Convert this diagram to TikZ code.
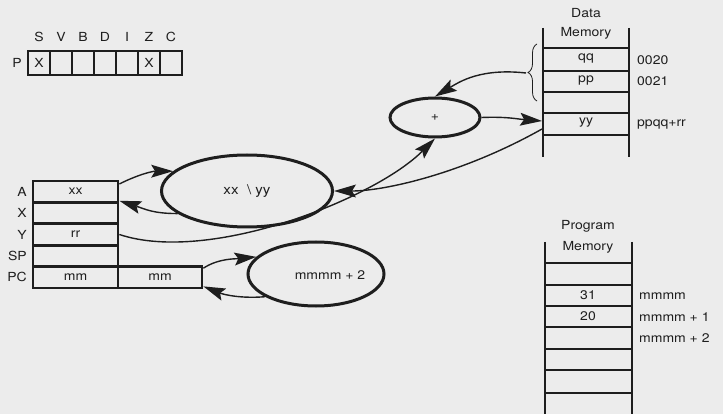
\documentclass[tikz,border=0pt]{standalone}
\usepackage{fontspec}
\setmainfont[FakeStretch=1.12]{TeX Gyre Heros}
\usetikzlibrary{arrows.meta,shapes.geometric,decorations.pathreplacing}
\definecolor{bg}{RGB}{236,236,236}
\definecolor{ink}{RGB}{30,30,30}
\begin{document}
\begin{tikzpicture}[x=1pt,y=-1pt,
  font=\fontsize{12.5}{14}\selectfont, color=ink,
  flagcell/.style={draw, line width=2.6pt, minimum width=22pt, minimum height=24pt, inner sep=0pt},
  reg/.style={draw, line width=2.8pt, minimum width=85pt, minimum height=21.4pt, inner sep=0pt},
  ell/.style={draw, ellipse, line width=3pt, inner sep=0pt},
  memline/.style={line width=2.8pt},
  lbl/.style={inner sep=0pt},
  tipshape/.tip={Stealth[length=22pt,width=13pt,inset=4pt,line width=0pt]},
  arr/.style={line width=1.4pt, -tipshape}]
\fill[bg] (0,0) rectangle (723,414);
\useasboundingbox (0,0) rectangle (723,414);

% flag register
\foreach \n/\t/\v [count=\i from 0] in {fS/S/X, fV/V/, fB/B/, fD/D/, fI/I/, fZ/Z/X, fC/C/} {
  \node[flagcell] (\n) at (39+22*\i,63) {\v};
  \node[lbl] (\n l) at (39+22*\i,37) {\t};
}
\node[lbl] (Pl) at (17,63) {P};

% registers
\node[reg] (rA) at (75.5,191.7) {xx};
\node[reg] (rX) at (75.5,213.1) {};
\node[reg] (rY) at (75.5,234.5) {rr};
\node[reg] (rSP) at (75.5,255.9) {};
\node[reg] (rPC) at (75.5,277.3) {mm};
\node[reg, minimum width=84pt] (rPC2) at (160,277.3) {mm};
\node[lbl, anchor=east] (lA) at (27,191.7) {A};
\node[lbl, anchor=east] (lX) at (27,213.1) {X};
\node[lbl, anchor=east] (lY) at (27,234.5) {Y};
\node[lbl, anchor=east] (lSP) at (27,255.9) {SP};
\node[lbl, anchor=east] (lPC) at (27,277.3) {PC};

% ellipses
\node[ell, minimum width=171pt, minimum height=72pt] (andE) at (247,191) {\fontsize{13.5}{15}\selectfont xx \ \textbackslash\ yy};
\node[ell, minimum width=136pt, minimum height=64pt] (incE) at (316,274) {};
\node[lbl] (incT) at (330,275) {mmmm + 2};
\node[ell, minimum width=90pt, minimum height=39pt] (plusE) at (435,117.5) {+};

% data memory
\node[lbl] (dmT1) at (586,13) {Data};
\node[lbl] (dmT2) at (586,33) {Memory};
\draw[memline] (543,28) -- (543,157);
\draw[memline] (629,28) -- (629,157);
\foreach \yy in {48,71,92,113,135} \draw[memline] (543,\yy) -- (629,\yy);
\node[lbl] (qq) at (586,58.5) {qq};
\node[lbl] (pp) at (586,80.5) {pp};
\node[lbl] (yy) at (586,123) {yy};
\node[lbl, anchor=west] (a20) at (637,60) {0020};
\node[lbl, anchor=west] (a21) at (637,81) {0021};
\node[lbl, anchor=west] (asum) at (637,124) {ppqq+rr};
\coordinate (dmIn) at (542,121);
\coordinate (dmOut) at (542,129);
\draw[line width=0.8pt, decorate, decoration={brace, amplitude=9pt}] (537,101) -- (537,44);
\coordinate (braceTip) at (526,73);

% program memory
\node[lbl] (pmT1) at (588,226) {Program};
\node[lbl] (pmT2) at (588,247) {Memory};
\draw[memline] (545,242) -- (545,414);
\draw[memline] (632,242) -- (632,414);
\foreach \yy in {263,285,306,327,349,370,393} \draw[memline] (545,\yy) -- (632,\yy);
\node[lbl] (c31) at (588,295.5) {31};
\node[lbl] (c20) at (588,316.5) {20};
\node[lbl, anchor=west] (m0) at (639,296) {mmmm};
\node[lbl, anchor=west] (m1) at (639,317) {mmmm + 1};
\node[lbl, anchor=west] (m2) at (639,338) {mmmm + 2};

% connectors
\draw[arr] (rA.10) .. controls +(20,-10) and +(-20,0) .. (andE.165);
\draw[arr] (andE.198) .. controls +(-25,0) and +(25,8) .. ([yshift=3pt]rA.south east);
\draw[arr] (rY.east) .. controls +(90,30) and +(-60,60) .. (plusE.south);
\draw[arr] (dmOut) .. controls +(-80,45) and +(50,0) .. (andE.east);
\draw[arr] (braceTip) .. controls +(-45,-5) and +(25,-15) .. (plusE.north);
\draw[arr] (plusE.east) .. controls +(25,-1) and +(-25,-2) .. (dmIn);
\draw[arr] ([yshift=-3pt]rPC2.north east) .. controls +(15,-10) and +(-20,2) .. (incE.164);
\draw[arr] (incE.204) .. controls +(-25,2) and +(20,8) .. ([yshift=3pt]rPC2.south east);
\end{tikzpicture}
\end{document}
